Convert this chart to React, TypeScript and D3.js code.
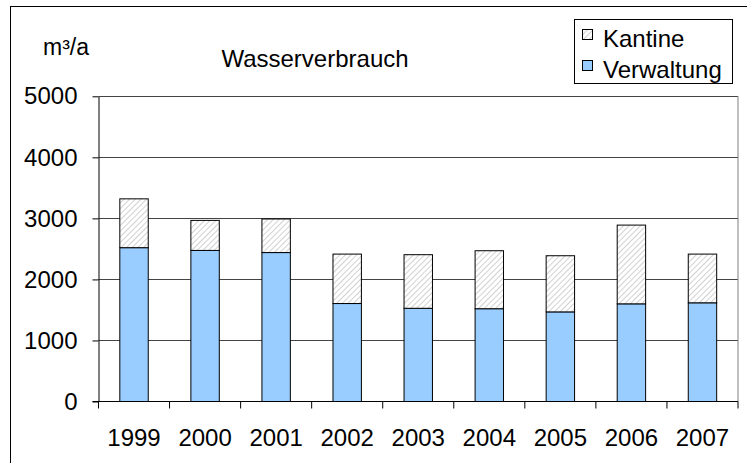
import * as d3 from "d3";
import { useEffect, useRef } from "react";

const years = ["1999", "2000", "2001", "2002", "2003", "2004", "2005", "2006", "2007"];
const verwaltung = [2520, 2475, 2440, 1605, 1527, 1520, 1468, 1600, 1617];
const kantine = [800, 492, 550, 810, 878, 950, 920, 1290, 798];
const yTicks = [0, 1000, 2000, 3000, 4000, 5000];

const FONT = "'Liberation Sans', Arial, sans-serif";

export default function App() {
  const ref = useRef<SVGSVGElement>(null);

  useEffect(() => {
    if (!ref.current) return;
    const svg = d3.select(ref.current);
    svg.selectAll("*").remove();

    const width = 747,
      height = 463;
    const plot = { left: 98.5, right: 738, top: 96.3, bottom: 401.5 };

    svg.attr("width", width).attr("height", height);

    // hatch pattern for Kantine
    const defs = svg.append("defs");
    const pat = defs
      .append("pattern")
      .attr("id", "hatch")
      .attr("patternUnits", "userSpaceOnUse")
      .attr("width", 4)
      .attr("height", 4)
      .attr("patternTransform", "rotate(45)");
    pat.append("rect").attr("width", 4).attr("height", 4).attr("fill", "#ffffff");
    pat
      .append("line")
      .attr("x1", 0)
      .attr("y1", 0)
      .attr("x2", 0)
      .attr("y2", 4)
      .attr("stroke", "#cccccc")
      .attr("stroke-width", 1.8);

    // outer frame
    svg
      .append("rect")
      .attr("x", 10.5)
      .attr("y", 6.5)
      .attr("width", 800)
      .attr("height", 500)
      .attr("fill", "#ffffff")
      .attr("stroke", "#000")
      .attr("stroke-width", 1);

    const x = d3
      .scaleBand()
      .domain(years)
      .range([plot.left, plot.right])
      .paddingInner(0.6)
      .paddingOuter(0.3);

    const y = d3.scaleLinear().domain([0, 5000]).range([plot.bottom, plot.top]);

    // grid lines
    svg
      .append("g")
      .selectAll("line")
      .data(yTicks.filter((d) => d > 0))
      .enter()
      .append("line")
      .attr("x1", plot.left)
      .attr("x2", plot.right)
      .attr("y1", (d) => Math.round(y(d)) + 0.5)
      .attr("y2", (d) => Math.round(y(d)) + 0.5)
      .attr("stroke", "#444")
      .attr("stroke-width", 1);

    // right border of plot area
    svg
      .append("line")
      .attr("x1", plot.right)
      .attr("x2", plot.right)
      .attr("y1", plot.top)
      .attr("y2", plot.bottom)
      .attr("stroke", "#808080");

    // bars
    const g = svg.append("g");
    years.forEach((yr, i) => {
      const v = verwaltung[i];
      const k = kantine[i];
      g.append("rect")
        .attr("x", x(yr)!)
        .attr("y", y(v))
        .attr("width", x.bandwidth())
        .attr("height", y(0) - y(v))
        .attr("fill", "#99ccff")
        .attr("stroke", "#000")
        .attr("stroke-width", 1);
      g.append("rect")
        .attr("x", x(yr)!)
        .attr("y", y(v + k))
        .attr("width", x.bandwidth())
        .attr("height", y(v) - y(v + k))
        .attr("fill", "url(#hatch)")
        .attr("stroke", "#000")
        .attr("stroke-width", 1);
    });

    // Y-axis
    const yAxis = svg
      .append("g")
      .attr("transform", `translate(${plot.left}, 0)`)
      .call(
        d3
          .axisLeft(y)
          .tickValues(yTicks)
          .tickFormat(d3.format("d"))
          .tickSize(6)
          .tickPadding(15)
          .tickSizeOuter(0)
      );
    yAxis.select(".domain").attr("stroke", "#000");
    yAxis.selectAll(".tick line").attr("stroke", "#000");
    yAxis
      .selectAll("text")
      .attr("fill", "#000")
      .attr("font-family", FONT)
      .attr("font-size", "24px");

    // X-axis line and ticks at category boundaries
    const step = x.step();
    const bounds = d3.range(years.length + 1).map((i) => plot.left + i * step);
    svg
      .append("line")
      .attr("x1", plot.left - 6)
      .attr("x2", plot.right)
      .attr("y1", plot.bottom)
      .attr("y2", plot.bottom)
      .attr("stroke", "#000");
    svg
      .append("g")
      .selectAll("line")
      .data(bounds)
      .enter()
      .append("line")
      .attr("x1", (d) => d)
      .attr("x2", (d) => d)
      .attr("y1", plot.bottom)
      .attr("y2", plot.bottom + 7)
      .attr("stroke", "#000");

    svg
      .append("g")
      .selectAll("text")
      .data(years)
      .enter()
      .append("text")
      .attr("x", (d) => x(d)! + x.bandwidth() / 2)
      .attr("y", 446)
      .attr("text-anchor", "middle")
      .attr("font-family", FONT)
      .attr("font-size", "24px")
      .attr("fill", "#000")
      .text((d) => d);

    // unit and title
    svg
      .append("text")
      .attr("x", 43)
      .attr("y", 55)
      .attr("font-family", FONT)
      .attr("font-size", "23px")
      .text("m³/a");

    svg
      .append("text")
      .attr("x", 315)
      .attr("y", 66.5)
      .attr("text-anchor", "middle")
      .attr("font-family", FONT)
      .attr("font-size", "24px")
      .text("Wasserverbrauch");

    // legend
    const lg = svg.append("g");
    lg.append("rect")
      .attr("x", 574.5)
      .attr("y", 19.5)
      .attr("width", 158)
      .attr("height", 64)
      .attr("fill", "#fff")
      .attr("stroke", "#000");
    const items = [
      { label: "Kantine", fill: "url(#hatch)", y: 29.5 },
      { label: "Verwaltung", fill: "#99ccff", y: 60.5 },
    ];
    items.forEach((it) => {
      lg.append("rect")
        .attr("x", 582.5)
        .attr("y", it.y)
        .attr("width", 10)
        .attr("height", 10)
        .attr("fill", it.fill)
        .attr("stroke", "#000");
      lg.append("text")
        .attr("x", 603)
        .attr("y", it.y + 17)
        .attr("font-family", FONT)
        .attr("font-size", "24px")
        .text(it.label);
    });
  }, []);

  return (
    <svg
      ref={ref}
      style={{ position: "absolute", left: 0, top: 0, display: "block" }}
    />
  );
}
